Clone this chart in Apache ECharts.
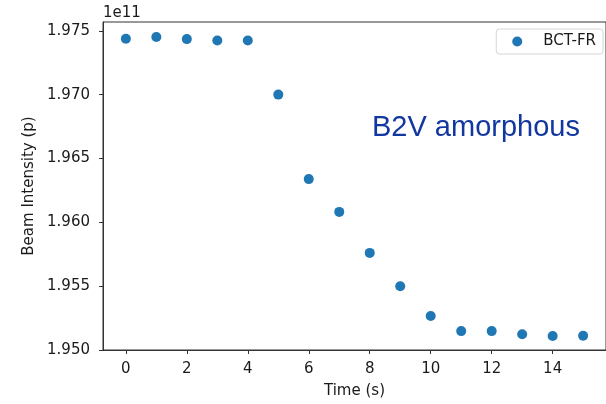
<!DOCTYPE html>
<html>
<head>
<meta charset="utf-8">
<script src="https://cdn.jsdelivr.net/npm/echarts@6/dist/echarts.min.js"></script>
<style>html,body{margin:0;padding:0;background:#fff;}#c{width:606px;height:404px;}</style>
</head>
<body>
<div id="c"></div>
<script>
// Data (beam intensity in units of 1e11 protons)
var timeS = [0, 1, 2, 3, 4, 5, 6, 7, 8, 9, 10, 11, 12, 13, 14, 15];
var bctFR = [1.97439, 1.97453, 1.97436, 1.97425, 1.97425, 1.97001, 1.96339, 1.96082,
             1.95761, 1.95500, 1.95267, 1.95148, 1.95148, 1.95124, 1.95109, 1.95112];
var xTicks = [0, 2, 4, 6, 8, 10, 12, 14];
var yTicks = [1.950, 1.955, 1.960, 1.965, 1.970, 1.975];
var seriesName = 'BCT-FR';
var annotation = 'B2V amorphous';
var exponentLabel = '1e11';

var pts = timeS.map(function (t, i) { return [t, bctFR[i]]; });
var font = 'DejaVu Sans';
var chart = echarts.init(document.getElementById('c'), null, {renderer: 'canvas'});
chart.setOption({
  animation: false,
  backgroundColor: '#fff',
  grid: {left: 103, top: 22, width: 508, height: 331, show: true, borderColor: '#333', borderWidth: 1, backgroundColor: 'transparent'},
  legend: {
    data: [seriesName], right: 3, top: 29, orient: 'vertical',
    borderColor: '#d6d6d6', borderWidth: 1, borderRadius: 3,
    padding: [5, 7, 5, 16], itemWidth: 10, itemHeight: 10,
    textStyle: {fontFamily: font, fontSize: 15, color: '#1a1a1a', padding: [0, 0, 0, 16]}
  },
  xAxis: {
    type: 'value', min: -0.75, max: 15.75,
    name: 'Time (s)', nameLocation: 'middle', nameGap: 34,
    nameTextStyle: {fontFamily: font, fontSize: 15, color: '#1a1a1a'},
    axisLine: {show: true, onZero: false, lineStyle: {color: '#333', width: 1}},
    axisTick: {show: true, length: 4, customValues: xTicks, lineStyle: {color: '#333'}},
    axisLabel: {customValues: xTicks, fontFamily: font, fontSize: 15, color: '#1a1a1a', margin: 12},
    splitLine: {show: false}
  },
  yAxis: {
    type: 'value', min: 1.95, max: 1.9757,
    name: 'Beam Intensity (p)', nameLocation: 'middle', nameGap: 59, nameRotate: 90,
    nameTextStyle: {fontFamily: font, fontSize: 15, color: '#1a1a1a'},
    axisLine: {show: true, onZero: false, lineStyle: {color: '#333', width: 1}},
    axisTick: {show: true, length: 4, customValues: yTicks, lineStyle: {color: '#333'}},
    axisLabel: {customValues: yTicks, fontFamily: font, fontSize: 15, color: '#1a1a1a', margin: 13,
      formatter: function (v) { return v.toFixed(3); }},
    splitLine: {show: false}
  },
  graphic: [
    {type: 'text', left: 103, top: 6, style: {text: exponentLabel, font: '15px "DejaVu Sans"', fill: '#1a1a1a'}},
    {type: 'text', x: 372, y: 128, style: {text: annotation, font: '29px "Liberation Sans"', fill: '#1238a0', verticalAlign: 'middle'}}
  ],
  series: [{
    name: seriesName, type: 'scatter', data: pts, symbol: 'circle', symbolSize: 10,
    itemStyle: {color: '#1f77b4', opacity: 1}
  }]
});
</script>
</body>
</html>
